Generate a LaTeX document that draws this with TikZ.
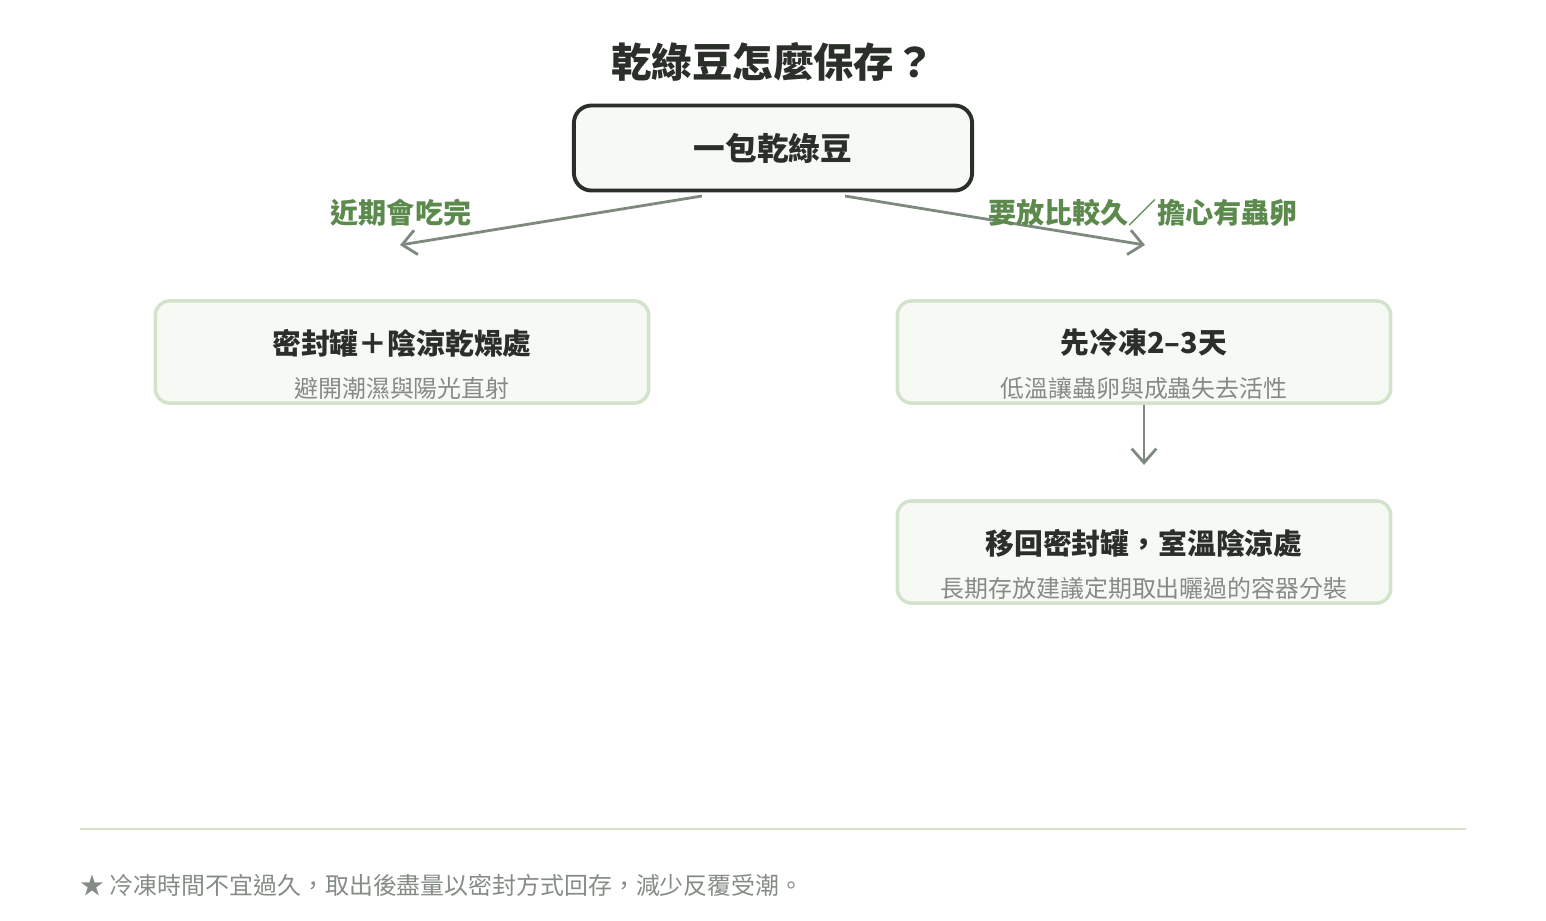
\documentclass[tikz,border=0pt]{standalone}
\usepackage{fontspec}
\setmainfont{Noto Sans CJK TC}
\usetikzlibrary{positioning,arrows.meta}
\definecolor{ink}{HTML}{2B2F2A}
\definecolor{leaf}{HTML}{5B8A4C}
\definecolor{edge}{HTML}{D3E2CB}
\definecolor{pale}{HTML}{F7FAF4}
\definecolor{wire}{HTML}{7F8A7F}
\definecolor{note}{HTML}{858C85}
\tikzset{
  stage/.style={draw=edge,line width=1pt,fill=pale,rounded corners=4pt,minimum width=4.93cm,minimum height=1.02cm},
  head/.style={font=\bfseries\fontsize{8.2}{10}\selectfont,text=ink},
  sub/.style={font=\fontsize{6.8}{8}\selectfont,text=note},
  flow/.style={draw=wire,line width=0.8pt,-{Straight Barb[length=4pt,width=7pt]}},
  tag/.style={font=\bfseries\fontsize{8}{10}\selectfont,text=leaf}
}
\begin{document}
\begin{tikzpicture}[x=0.01cm,y=-0.01cm]
\useasboundingbox (0,0) rectangle (1546,920);
\node[font=\bfseries\fontsize{11.5}{14}\selectfont,text=ink] (title) at (773,62) {乾綠豆怎麼保存？};
\node[draw=ink,line width=1.1pt,fill=pale,rounded corners=5pt,minimum width=3.98cm,minimum height=0.85cm,head,font=\bfseries\fontsize{9}{11}\selectfont] (top) at (773,148) {一包乾綠豆};

\node[stage] (near) at (402,352) {};
\node[head] at (402,343) {密封罐＋陰涼乾燥處};
\node[sub] at (402,388) {避開潮濕與陽光直射};

\node[stage] (freeze) at (1144,352) {};
\node[head] at (1144,343) {先冷凍2–3天};
\node[sub] at (1144,388) {低溫讓蟲卵與成蟲失去活性};

\node[stage] (back) at (1144,552) {};
\node[head] at (1144,543) {移回密封罐，室溫陰涼處};
\node[sub] at (1144,588) {長期存放建議定期取出曬過的容器分裝};

\coordinate (a1) at (702,196);
\coordinate (a2) at (400,245);
\coordinate (b1) at (845,196);
\coordinate (b2) at (1145,245);
\draw[flow] (a1) -- (a2);
\draw[flow] (b1) -- (b2);
\draw[flow] (freeze.south) -- ([yshift=-0.6cm]freeze.south);

\node[tag] (l1) at (401,213) {近期會吃完};
\node[tag] (l2) at (1143,213) {要放比較久／擔心有蟲卵};

\draw[edge,line width=0.6pt] (80,829) -- (1466,829);
\node[sub,anchor=west,inner sep=0pt] (foot) at (80,885) {★ 冷凍時間不宜過久，取出後盡量以密封方式回存，減少反覆受潮。};
\end{tikzpicture}
\end{document}
